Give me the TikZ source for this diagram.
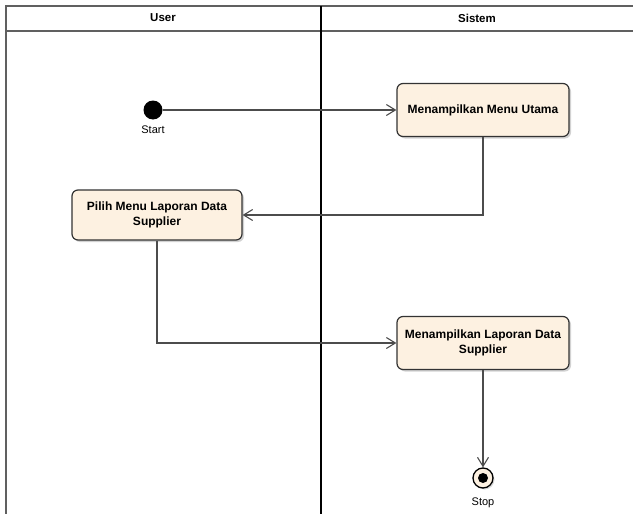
\documentclass[tikz,border=0pt]{standalone}
\usepackage{fontspec}
\setmainfont{Liberation Sans}
\usetikzlibrary{arrows.meta,shadows,positioning}
\definecolor{actfill}{HTML}{FDF1E1}
\definecolor{lanegray}{HTML}{606060}
\tikzset{>={Straight Barb[length=9pt,width=11pt]}}
\tikzset{act node/.style={rectangle,rounded corners=6pt,draw=black!80,line width=1.2pt,fill=actfill,
            minimum width=172pt,minimum height=53pt,align=center,
            font=\fontsize{12}{14.5}\selectfont\bfseries,
            drop shadow={shadow xshift=2pt,shadow yshift=-2pt,fill=black!35}},
         start node/.style={circle,fill=black,minimum size=19pt,inner sep=0pt},
         stop node/.style={circle,draw=black,line width=1.3pt,fill=actfill,minimum size=20pt,inner sep=0pt,
            drop shadow={shadow xshift=1.5pt,shadow yshift=-1.5pt,fill=black!30}},
         flow/.style={draw=black!70,line width=1.1pt,->},
         lane/.style={draw=lanegray,line width=2pt},
         lane title/.style={font=\fontsize{11.5}{13}\selectfont\bfseries},
         small label/.style={font=\fontsize{11}{13}\selectfont,inner sep=0pt}
            }

\begin{document}
\begin{tikzpicture}[x=1pt,y=-1pt]
    \useasboundingbox (0,0) rectangle (633,514);

    % swimlanes
    \draw[lane] (6,514) -- (6,6) -- (633,6);
    \draw[lane] (6,31) -- (633,31);
    \draw[line width=1.6pt] (321,6) -- (321,514);
    \node[lane title] (user) at (163,18) {User};
    \node[lane title] (sistem) at (477,18) {Sistem};

    % activities
    \node[start node] (start) at (153,110) {};
    \node[small label] (startlbl) [below = 6pt of start] {Start};
    \node[act node] (menu) at (483,110) {Menampilkan Menu Utama};
    \node[act node,minimum width=170pt,minimum height=50pt] (pilih) at (157,215) {Pilih Menu Laporan Data\\Supplier};
    \node[act node] (lapor) at (483,343) {Menampilkan Laporan Data\\Supplier};
    \node[stop node] (stop) at (483,478) {};
    \fill (stop.center) circle (5pt);
    \node[small label] (stoplbl) [below = 9pt of stop] {Stop};

    \path[flow] (start) -- (menu);
    \path[flow] (menu.south) |- (pilih.east);
    \path[flow] (pilih.south) |- (lapor.west);
    \path[flow] (lapor) -- (stop);

\end{tikzpicture}
\end{document}
